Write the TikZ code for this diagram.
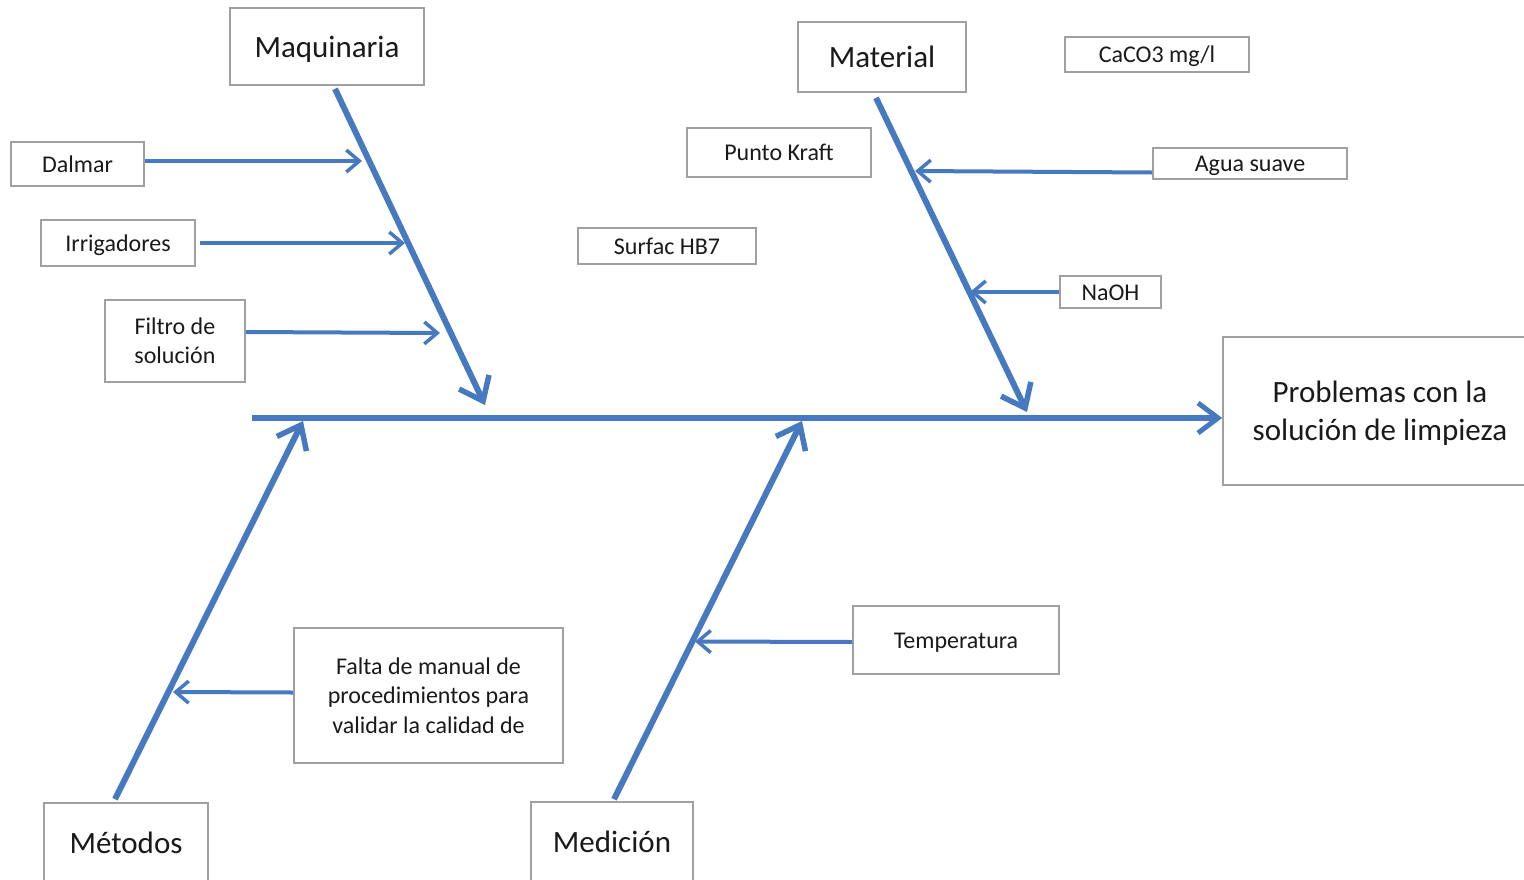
\documentclass[tikz,border=0pt]{standalone}
\usepackage{fontspec}
\setmainfont{Carlito}
\usetikzlibrary{arrows.meta,calc}
\definecolor{bonecol}{HTML}{4779C0}
\definecolor{boxline}{HTML}{A0A0A0}
\definecolor{inkcol}{HTML}{1A1A1A}
% strut that gives the first line of a box its full ascent
\newcommand{\topstrut}{\rule{0pt}{0.95em}}
\begin{document}
\begin{tikzpicture}[x=1pt,y=-1pt,
  box/.style={draw=boxline,line width=1.6pt,fill=white,inner sep=0pt,align=center,text=inkcol,
    execute at begin node={\rule{0pt}{0.95em}},
    execute at end node={\rule[-0.27em]{0pt}{0pt}}},
  multiline/.style={execute at begin node={},execute at end node={}},
  mainlbl/.style={box,font=\fontsize{31}{38}\selectfont},
  sublbl/.style={box,font=\fontsize{24}{29.5}\selectfont},
  spine/.style={draw=bonecol,line width=6pt,-{Straight Barb[length=20pt,width=30pt,line width=5pt]}},
  bone/.style={draw=bonecol,line width=6pt,-{Straight Barb[length=21pt,width=33pt,line width=5.5pt]}},
  twig/.style={draw=bonecol,line width=4pt,-{Straight Barb[length=13pt,width=22pt,line width=3.5pt]}}]
\useasboundingbox (0,0) rectangle (1524,879);

% category boxes
\node[mainlbl,minimum width=194pt,minimum height=77pt] (maq) at (327,46.5) {Maquinaria};
\node[mainlbl,minimum width=168pt,minimum height=70pt] (mat) at (882,57) {Material};
\node[mainlbl,minimum width=164pt,minimum height=80pt] (met) at (126,843) {Métodos};
\node[mainlbl,minimum width=162pt,minimum height=80pt] (med) at (612,842) {Medición};
\node[mainlbl,multiline,minimum width=314pt,minimum height=148pt] (prob) at (1380,411) {\topstrut Problemas con la\\solución de limpieza};

% cause boxes
\node[sublbl,minimum width=184pt,minimum height=35pt] (caco) at (1157,54.5) {CaCO3 mg/l};
\node[sublbl,minimum width=184pt,minimum height=49pt] (kraft) at (779,152.5) {Punto Kraft};
\node[sublbl,minimum width=194pt,minimum height=31pt] (agua) at (1250,163.5) {Agua suave};
\node[sublbl,minimum width=133pt,minimum height=44pt] (dalmar) at (77.5,164) {Dalmar};
\node[sublbl,minimum width=154pt,minimum height=46pt] (irrig) at (118,243) {Irrigadores};
\node[sublbl,minimum width=178pt,minimum height=36pt] (surfac) at (667,246) {Surfac HB7};
\node[sublbl,multiline,minimum width=140pt,minimum height=82pt] (filtro) at (175,341) {\topstrut Filtro de\\solución};
\node[sublbl,minimum width=101pt,minimum height=32pt] (naoh) at (1110.5,292) {NaOH};
\node[sublbl,minimum width=206pt,minimum height=68pt] (temp) at (956,640) {Temperatura};
\node[sublbl,multiline,minimum width=269pt,minimum height=135pt] (falta) at (428.5,695.5) {\topstrut Falta de manual de\\procedimientos para\\validar la calidad de};

% ends of the bones on the spine
\coordinate (sp0) at (252,418);
\coordinate (mqtip) at (485,405);
\coordinate (mttip) at (1027,412);
\coordinate (metip) at (303,421);
\coordinate (mdtip) at (802,421);

% ends of the small arrows on the bones
\coordinate (dtip) at (362,161);
\coordinate (itip) at (405,243);
\coordinate (ftip) at (440,333);
\coordinate (atip) at (915,171);
\coordinate (ntip) at (970,292);
\coordinate (fmtip) at (173,692);
\coordinate (ttip) at (695,641.5);

% spine
\draw[spine] (sp0) -- (sp0 -| prob.west);

% bones
\draw[bone] ([xshift=8pt,yshift=-3pt]maq.south) -- (mqtip);
\draw[bone] ([xshift=-6pt,yshift=-5pt]mat.south) -- (mttip);
\draw[bone] ([xshift=-11pt,yshift=3pt]met.north) -- (metip);
\draw[bone] ([xshift=2pt,yshift=2pt]med.north) -- (mdtip);

% small arrows
\draw[twig] ([yshift=3pt]dalmar.east) -- (dtip);
\draw[twig] ([xshift=4pt]irrig.east) -- (itip);
\draw[twig] ([yshift=9pt]filtro.east) -- (ftip);
\draw[twig] ([yshift=-9pt]agua.west) -- (atip);
\draw[twig] (naoh.west) -- (ntip);
\draw[twig] ([yshift=3pt]falta.west) -- (fmtip);
\draw[twig] ([yshift=-2pt]temp.west) -- (ttip);
\end{tikzpicture}
\end{document}
